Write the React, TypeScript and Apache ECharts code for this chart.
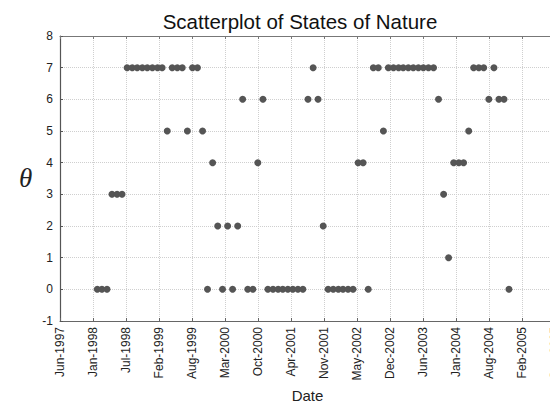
import React, { useEffect, useRef } from "react";
import * as echarts from "echarts";

const title = "Scatterplot of States of Nature";
const xName = "Date";
const yName = "θ";

// x axis: ticks every 200 days starting from the first tick date
const firstTick = "1997-06-20";
const tickDays = 200;
const tickCount = 15;
const monthNames = ["Jan", "Feb", "Mar", "Apr", "May", "Jun", "Jul", "Aug", "Sep", "Oct", "Nov", "Dec"];

const yMin = -1;
const yMax = 8;

const months = [
  "1998-02", "1998-03", "1998-04", "1998-05", "1998-06", "1998-07", "1998-08", "1998-09", "1998-10", "1998-11", "1998-12",
  "1999-01", "1999-02", "1999-03", "1999-04", "1999-05", "1999-06", "1999-07", "1999-08", "1999-09", "1999-10", "1999-11", "1999-12",
  "2000-01", "2000-02", "2000-03", "2000-04", "2000-05", "2000-06", "2000-07", "2000-08", "2000-09", "2000-10", "2000-11", "2000-12",
  "2001-01", "2001-02", "2001-03", "2001-04", "2001-05", "2001-06", "2001-07", "2001-08", "2001-09", "2001-10", "2001-11", "2001-12",
  "2002-01", "2002-02", "2002-03", "2002-04", "2002-05", "2002-06", "2002-07", "2002-08", "2002-09", "2002-10", "2002-11", "2002-12",
  "2003-01", "2003-02", "2003-03", "2003-04", "2003-05", "2003-06", "2003-07", "2003-08", "2003-09", "2003-10", "2003-11", "2003-12",
  "2004-01", "2004-02", "2004-03", "2004-04", "2004-05", "2004-06", "2004-07", "2004-08", "2004-09", "2004-10", "2004-11", "2004-12",
];

const theta = [
  0, 0, 0, 3, 3, 3, 7, 7, 7, 7, 7,
  7, 7, 7, 5, 7, 7, 7, 5, 7, 7, 5, 0,
  4, 2, 0, 2, 0, 2, 6, 0, 0, 4, 6, 0,
  0, 0, 0, 0, 0, 0, 0, 6, 7, 6, 2, 0,
  0, 0, 0, 0, 0, 4, 4, 0, 7, 7, 5, 7,
  7, 7, 7, 7, 7, 7, 7, 7, 7, 6, 3, 1,
  4, 4, 4, 5, 7, 7, 7, 6, 7, 6, 6, 0,
];

const DAY = 86400000;
const base = Date.parse(firstTick + "T00:00:00Z");

function toDays(m: string): number {
  return (Date.parse(m + "-01T00:00:00Z") - base) / DAY;
}

function fmtTick(v: number): string {
  const d = new Date(base + v * DAY);
  return monthNames[d.getUTCMonth()] + "-" + d.getUTCFullYear();
}

export default function App() {
  const ref = useRef<HTMLDivElement>(null);
  useEffect(() => {
    document.body.style.margin = "0";
    if (!ref.current) return;
    const chart = echarts.init(ref.current, undefined, { renderer: "svg" });
    const font = "'Liberation Sans', Arial, sans-serif";
    const data = months.map((m, i) => [toDays(m), theta[i]]);
    const xCommon = {
      type: "value" as const,
      min: 0,
      max: tickDays * tickCount,
      interval: tickDays,
    };
    chart.setOption({
      animation: false,
      backgroundColor: "#ffffff",
      title: {
        text: title,
        left: 295,
        top: 6,
        textAlign: "center",
        textStyle: { fontFamily: font, fontSize: 20.5, fontWeight: "normal", color: "#111" },
      },
      grid: { left: 60, top: 36, right: -5, bottom: 84, outerBoundsMode: "none", containLabel: false },
      xAxis: [
        {
          ...xCommon,
          position: "bottom",
          name: xName,
          nameLocation: "middle",
          nameGap: 66,
          nameTextStyle: { fontFamily: font, fontSize: 15, color: "#222" },
          axisLine: { show: true, onZero: false, lineStyle: { color: "#666", width: 1 } },
          axisTick: { show: true, inside: true, length: 3, lineStyle: { color: "#666" } },
          axisLabel: {
            rotate: 90,
            margin: 6,
            fontFamily: font,
            fontSize: 12,
            color: "#222",
            formatter: (v: number) => fmtTick(v),
            showMaxLabel: true,
          },
          splitLine: { show: true, lineStyle: { type: "dotted", color: "#cfcfcf", width: 1 } },
        },
        {
          ...xCommon,
          position: "top",
          axisLine: { show: true, onZero: false, lineStyle: { color: "#777", width: 1 } },
          axisTick: { show: true, inside: true, length: 3, lineStyle: { color: "#777" } },
          axisLabel: { show: false },
          splitLine: { show: false },
        },
      ],
      yAxis: {
        type: "value",
        min: yMin,
        max: yMax,
        interval: 1,
        axisLine: { show: true, onZero: false, lineStyle: { color: "#555", width: 1.2 } },
        axisTick: { show: true, inside: true, length: 3, lineStyle: { color: "#555" } },
        axisLabel: { margin: 7, fontFamily: font, fontSize: 12, color: "#222" },
        splitLine: { show: true, lineStyle: { type: "dotted", color: "#cfcfcf", width: 1 } },
      },
      graphic: [
        {
          type: "text",
          left: 19,
          top: 164,
          style: {
            text: yName,
            fontFamily: "'Liberation Serif', 'DejaVu Serif', serif",
            fontStyle: "italic",
            fontSize: 27,
            fill: "#222",
          },
        },
      ],
      series: [
        {
          type: "scatter",
          xAxisIndex: 0,
          data,
          symbol: "circle",
          symbolSize: 7,
          itemStyle: { color: "#555555", opacity: 1 },
        },
      ],
    });
    return () => chart.dispose();
  }, []);
  return <div ref={ref} style={{ width: 550, height: 405 }} />;
}
